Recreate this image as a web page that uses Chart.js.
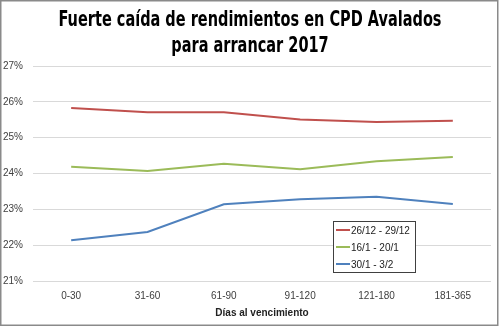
<!DOCTYPE html>
<html><head><meta charset="utf-8">
<script src="https://cdn.jsdelivr.net/npm/chart.js@4"></script>
<style>html,body{margin:0;padding:0;background:#fff;}#wrap{width:499px;height:326px;}</style>
</head><body><div id="wrap"><canvas id="c" width="499" height="326"></canvas></div>
<script>
const categories = ["0-30","31-60","61-90","91-120","121-180","181-365"];
const seriesNames = ["26/12 - 29/12","16/1 - 20/1","30/1 - 3/2"];
const serie1 = [25.83,25.71,25.71,25.51,25.44,25.47];
const serie2 = [24.19,24.07,24.27,24.12,24.34,24.46];
const serie3 = [22.14,22.37,23.14,23.28,23.35,23.15];
const colors = ["#C0504D","#9BBB59","#4F81BD"];
const titleLines = ["Fuerte caída de rendimientos en CPD Avalados","para arrancar 2017"];
const xTitle = "Días al vencimiento";

const bgPlugin = {
  id:'bg',
  beforeDraw(chart){
    const ctx=chart.ctx;ctx.save();ctx.fillStyle='#fff';ctx.fillRect(0,0,chart.width,chart.height);ctx.restore();
  },
  afterDraw(chart){
    const ctx=chart.ctx;ctx.save();
    ctx.strokeStyle='#8a8a8a';ctx.lineWidth=1.5;ctx.strokeRect(0.75,0.75,497,324.5);
    // title (horizontally condensed)
    ctx.fillStyle='#000';ctx.textBaseline='middle';ctx.textAlign='center';
    ctx.font='bold 22px "DejaVu Sans Condensed", "DejaVu Sans", sans-serif';
    const w1=ctx.measureText(titleLines[0]).width;
    const sx=383/w1;
    ctx.save();ctx.translate(250,0);ctx.scale(sx,1);
    ctx.fillText(titleLines[0],0,20);
    ctx.fillText(titleLines[1],0,46);
    ctx.restore();
    ctx.textAlign='left';
    // legend
    const x0=333,y0=221,w=82,h=51;
    ctx.fillStyle='#fff';ctx.fillRect(x0,y0,w,h);
    ctx.strokeStyle='#404040';ctx.lineWidth=1;ctx.strokeRect(x0+0.5,y0+0.5,w,h);
    ctx.font='10px "Liberation Sans", sans-serif';ctx.textBaseline='middle';
    chart.data.datasets.forEach((ds,i)=>{
      const y=y0+9+i*17;
      ctx.strokeStyle=ds.borderColor;ctx.lineWidth=2;
      ctx.beginPath();ctx.moveTo(x0+3,y);ctx.lineTo(x0+17,y);ctx.stroke();
      ctx.fillStyle='#222';ctx.fillText(ds.label,x0+18,y+1);
    });
    ctx.restore();
  }
};

new Chart(document.getElementById('c'),{
  type:'line',
  data:{labels:categories,datasets:[serie1,serie2,serie3].map((d,i)=>({label:seriesNames[i],data:d,borderColor:colors[i],backgroundColor:colors[i],borderWidth:2,pointRadius:0,tension:0,fill:false}))},
  options:{
    responsive:false,animation:false,
    layout:{padding:{left:0,right:8,top:66,bottom:0}},
    plugins:{legend:{display:false},tooltip:{enabled:false},title:{display:false}},
    scales:{
      x:{offset:true,grid:{display:false,drawTicks:false},border:{display:false},
         afterFit(s){s.height=45;},
         ticks:{color:'#404040',font:{family:'"Liberation Sans", sans-serif',size:10},padding:9},
         title:{display:true,text:xTitle,color:'#222',font:{family:'"Liberation Sans", sans-serif',size:10,weight:'bold'},padding:{top:4,bottom:7}}},
      y:{min:21,max:27,grid:{color:'#d9d9d9',drawTicks:false},border:{display:false},
         afterFit(s){s.width=33;},
         ticks:{stepSize:1,color:'#404040',font:{family:'"Liberation Sans", sans-serif',size:10},padding:10,callback:v=>v+'%'}}
    }
  },
  plugins:[bgPlugin]
});
</script></body></html>
